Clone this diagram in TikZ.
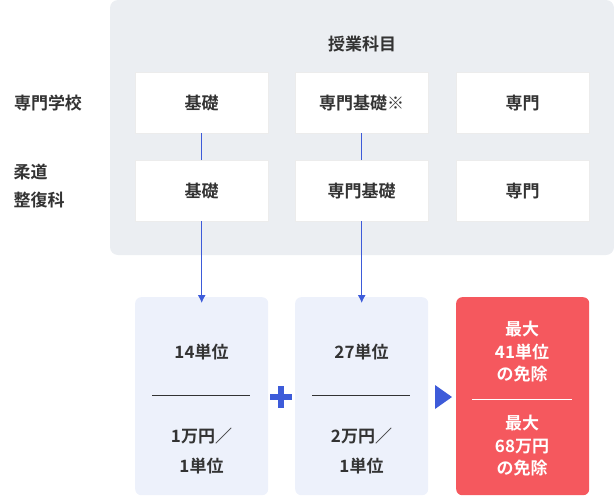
\documentclass[tikz,border=0pt]{standalone}
\usetikzlibrary{arrows.meta}
\usepackage{fontspec}
\setmainfont{Noto Sans CJK JP}[BoldFont={Noto Sans CJK JP Bold}]
\definecolor{panel}{HTML}{EBEEF2}
\definecolor{lblue}{HTML}{EDF1FB}
\definecolor{dblue}{HTML}{3D5BD9}
\definecolor{red1}{HTML}{F5585E}
\definecolor{txt}{HTML}{333333}
\begin{document}
\begin{tikzpicture}[x=1pt,y=-1pt,
  wbox/.style={draw=white!85!gray,fill=white,minimum width=133pt,minimum height=61pt,anchor=north west,font=\fontsize{17}{19}\selectfont\bfseries,text=txt},
  bbox/.style={fill=lblue,rounded corners=6pt,minimum width=133pt,minimum height=198pt,anchor=north west},
  lbl/.style={font=\fontsize{17}{24}\selectfont\bfseries,text=txt,align=center},
  conn/.style={dblue,line width=1.2pt}]
\useasboundingbox (0,0) rectangle (614,496);
\fill[panel,rounded corners=8pt] (110,0) rectangle (614,255);
\node[lbl] (h) at (362,44) {授業科目};
\node[lbl] (l1) at (48,103) {専門学校};
\node[lbl,align=left,font=\fontsize{17}{28}\selectfont\bfseries] (l2) at (39,186) {柔道\\整復科};
\node[wbox] (a1) at (135,72) {基礎};
\node[wbox] (a2) at (295,72) {専門基礎※};
\node[wbox] (a3) at (456,72) {専門};
\node[wbox] (b1) at (135,160) {基礎};
\node[wbox] (b2) at (295,160) {専門基礎};
\node[wbox] (b3) at (456,160) {専門};
\node[bbox] (c1) at (135,297) {};
\node[bbox] (c2) at (295,297) {};
\node[bbox,fill=red1] (c3) at (456,297) {};
\draw[conn] (a1.south) -- (b1.north);
\draw[conn] (a2.south) -- (b2.north);
\draw[conn,-{Latex[length=8pt,width=8pt]}] (b1.south) -- ([yshift=-6pt]c1.north);
\draw[conn,-{Latex[length=8pt,width=8pt]}] (b2.south) -- ([yshift=-6pt]c2.north);
\node[lbl] (t1) at (201.5,352) {14単位};
\node[lbl] (t2) at (361.5,352) {27単位};
\draw[txt,line width=0.8pt] (152,395) -- (250,395);
\draw[txt,line width=0.8pt] (312,395) -- (410,395);
\node[lbl,font=\fontsize{17}{30}\selectfont\bfseries] (u1) at (201.5,451) {1万円／\\1単位};
\node[lbl,font=\fontsize{17}{30}\selectfont\bfseries] (u2) at (361.5,451) {2万円／\\1単位};
\node[lbl,text=white,font=\fontsize{17}{22.5}\selectfont\bfseries] (r1) at (522,352) {最大\\41単位\\の免除};
\draw[white,line width=0.8pt] (472,399) -- (572,399);
\node[lbl,text=white,font=\fontsize{17}{22.5}\selectfont\bfseries] (r2) at (522,446) {最大\\68万円\\の免除};
\fill[dblue] (278,386) rectangle (284,408);
\fill[dblue] (270,394) rectangle (292,400);
\fill[dblue] (435,385) -- (452,397) -- (435,409) -- cycle;
\end{tikzpicture}
\end{document}
